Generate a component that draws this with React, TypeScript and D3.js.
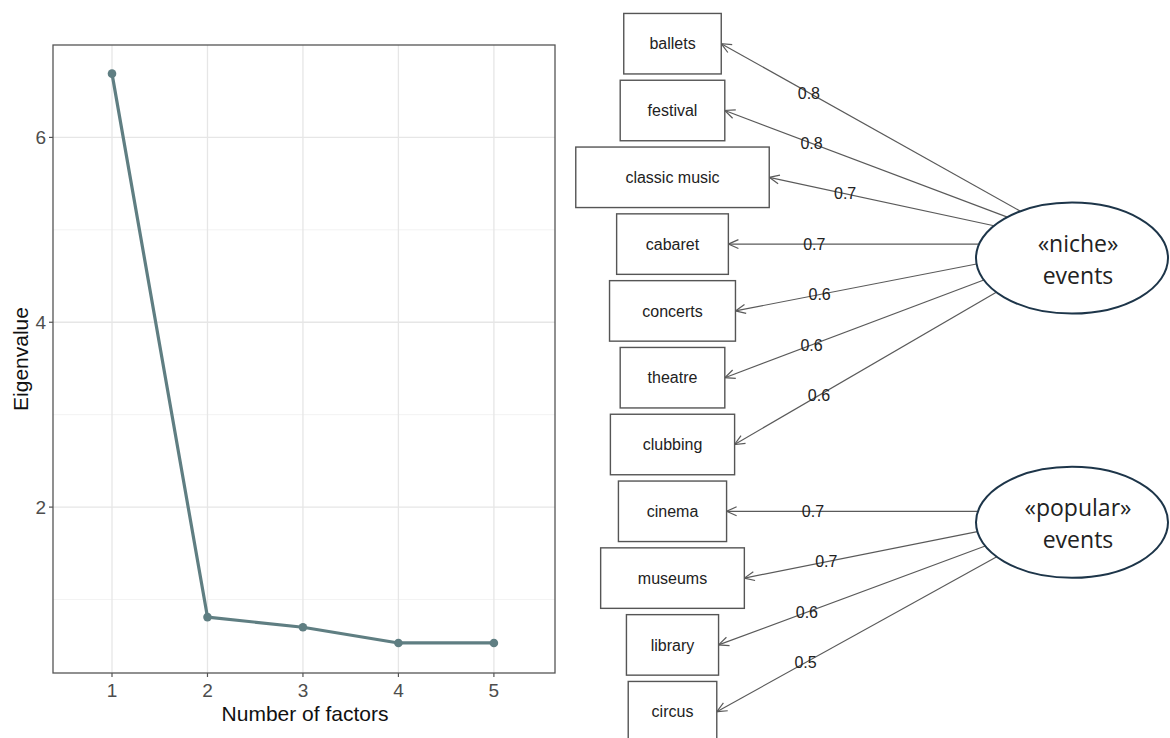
import React from 'react';
import * as d3 from 'd3';

// ---------- data ----------
const factors = [1, 2, 3, 4, 5];
const eigenvalues = [6.69, 0.81, 0.7, 0.53, 0.53];
const yTicks = [2, 4, 6];
const yMinorTicks = [1, 3, 5];
const xTitle = 'Number of factors';
const yTitle = 'Eigenvalue';

const indicators = ['ballets', 'festival', 'classic music', 'cabaret', 'concerts', 'theatre', 'clubbing', 'cinema', 'museums', 'library', 'circus'];
const loadings = [0.8, 0.8, 0.7, 0.7, 0.6, 0.6, 0.6, 0.7, 0.7, 0.6, 0.5];
const indicatorFactor = [0, 0, 0, 0, 0, 0, 0, 1, 1, 1, 1];
const factorLines = [['«niche»', 'events'], ['«popular»', 'events']];

// ---------- layout ----------
const W = 1170, H = 738;
const panel = { left: 53, right: 555, top: 45, bottom: 673 };
const boxCx = 672.5;
const boxH = 60.5;
const latentLayout = [
  { focusRow: 3, dy: 14 },
  { focusRow: 7, dy: 11 },
];
const ellCx = 1072, ellRx = 96, ellRy = 55.5;
const focusDx = 7;

const FONT = "'Liberation Sans', Arial, sans-serif";
const LATENT_FONT = "'Open Sans', 'Noto Sans', sans-serif";

function measure(text: string, size: number): number {
  const c = document.createElement('canvas').getContext('2d');
  if (!c) return text.length * size * 0.5;
  c.font = `${size}px ${FONT}`;
  return c.measureText(text).width;
}

export default function App() {
  const x = d3.scaleLinear().domain([0.382, 5.64]).range([panel.left, panel.right]);
  const y = d3.scaleLinear().domain([0.205, 7.0]).range([panel.bottom, panel.top]);
  const line = d3.line<number>().x((_, i) => x(factors[i])).y((d) => y(d));

  const row = d3.scaleLinear().domain([0, indicators.length - 1]).range([43.7, 43.7 + 66.8 * (indicators.length - 1)]);

  const latents = latentLayout.map((l) => {
    const fy = row(l.focusRow);
    return { fx: ellCx + focusDx, fy, cx: ellCx, cy: fy + l.dy };
  });

  const edges = indicators.map((name, i) => {
    const lat = latents[indicatorFactor[i]];
    const tw = measure(name, 16);
    const bw = 2 * tw + 5;
    const tx = boxCx + bw / 2;
    const ty = row(i);
    const dx = tx - lat.fx, dy = ty - lat.fy;
    const ox = (lat.fx - lat.cx) / ellRx, oy = (lat.fy - lat.cy) / ellRy;
    const ux = dx / ellRx, uy = dy / ellRy;
    const a = ux * ux + uy * uy, b = 2 * (ox * ux + oy * uy), c = ox * ox + oy * oy - 1;
    const s = (-b + Math.sqrt(b * b - 4 * a * c)) / (2 * a);
    const sx = lat.fx + s * dx, sy = lat.fy + s * dy;
    const ang = Math.atan2(sy - ty, sx - tx);
    const L = 11, spread = (24 * Math.PI) / 180;
    const head = `M${tx + L * Math.cos(ang + spread)},${ty + L * Math.sin(ang + spread)}L${tx},${ty}L${tx + L * Math.cos(ang - spread)},${ty + L * Math.sin(ang - spread)}`;
    const lx = tx + 0.245 * (lat.fx - tx);
    const ly = ty + 0.245 * (lat.fy - ty);
    return { name, i, bw, tx, ty, sx, sy, head, lx, ly, load: loadings[i] };
  });

  const midY = (panel.top + panel.bottom) / 2;
  const midX = (panel.left + panel.right) / 2;

  return (
    <div style={{ position: 'absolute', left: 0, top: 0 }}>
      <svg width={W} height={H} style={{ display: 'block', background: '#fff' }}>
        {/* ---------- scree plot ---------- */}
        <rect x={panel.left} y={panel.top} width={panel.right - panel.left} height={panel.bottom - panel.top} fill="#fff" />
        {yMinorTicks.map((t) => (
          <line key={'ym' + t} x1={panel.left} x2={panel.right} y1={y(t)} y2={y(t)} stroke="#EFEFEF" strokeWidth={0.8} />
        ))}
        {yTicks.map((t) => (
          <line key={'yg' + t} x1={panel.left} x2={panel.right} y1={y(t)} y2={y(t)} stroke="#E6E6E6" strokeWidth={1.3} />
        ))}
        {factors.map((f) => (
          <line key={'xg' + f} x1={x(f)} x2={x(f)} y1={panel.top} y2={panel.bottom} stroke="#E6E6E6" strokeWidth={1.3} />
        ))}
        <path d={line(eigenvalues) || ''} fill="none" stroke="#5f7e82" strokeWidth={3.2} strokeLinejoin="round" />
        {eigenvalues.map((v, i) => (
          <circle key={'pt' + i} cx={x(factors[i])} cy={y(v)} r={4.3} fill="#5f7e82" />
        ))}
        <rect x={panel.left} y={panel.top} width={panel.right - panel.left} height={panel.bottom - panel.top} fill="none" stroke="#555" strokeWidth={1.3} />
        {factors.map((f) => (
          <g key={'xt' + f}>
            <line x1={x(f)} x2={x(f)} y1={panel.bottom} y2={panel.bottom + 4} stroke="#555" strokeWidth={1.2} />
            <text x={x(f)} y={697} textAnchor="middle" fontFamily={FONT} fontSize={19} fill="#4D4D4D">{f}</text>
          </g>
        ))}
        {yTicks.map((t) => (
          <g key={'yt' + t}>
            <line x1={panel.left - 4} x2={panel.left} y1={y(t)} y2={y(t)} stroke="#555" strokeWidth={1.2} />
            <text x={46} y={y(t)} dy="0.36em" textAnchor="end" fontFamily={FONT} fontSize={19} fill="#4D4D4D">{t}</text>
          </g>
        ))}
        <text x={midX + 1} y={721} textAnchor="middle" fontFamily={FONT} fontSize={21} fill="#111">{xTitle}</text>
        <text transform={`translate(28,${midY}) rotate(-90)`} textAnchor="middle" fontFamily={FONT} fontSize={21} fill="#111">{yTitle}</text>

        {/* ---------- path diagram ---------- */}
        {edges.map((e) => (
          <g key={'e' + e.i}>
            <line x1={e.sx} y1={e.sy} x2={e.tx} y2={e.ty} stroke="#5a5a5a" strokeWidth={1.2} />
            <path d={e.head} fill="none" stroke="#5a5a5a" strokeWidth={1.2} />
            <text x={e.lx} y={e.ly} dy="0.36em" textAnchor="middle" fontFamily={FONT} fontSize={16} fill="#222">{e.load.toFixed(1)}</text>
          </g>
        ))}
        {edges.map((e) => (
          <g key={'b' + e.i}>
            <rect x={boxCx - e.bw / 2} y={e.ty - boxH / 2} width={e.bw} height={boxH} fill="#fff" stroke="#555" strokeWidth={1.4} />
            <text x={boxCx} y={e.ty} dy="0.36em" textAnchor="middle" fontFamily={FONT} fontSize={16} fill="#222">{e.name}</text>
          </g>
        ))}
        {latents.map((l, k) => (
          <g key={'lat' + k}>
            <ellipse cx={l.cx} cy={l.cy} rx={ellRx} ry={ellRy} fill="#fff" stroke="#1d3549" strokeWidth={2} />
            <text x={l.cx + 6} y={l.cy - 6} textAnchor="middle" fontFamily={LATENT_FONT} fontSize={23} fill="#222">{factorLines[k][0]}</text>
            <text x={l.cx + 6} y={l.cy + 25.5} textAnchor="middle" fontFamily={LATENT_FONT} fontSize={23} fill="#222">{factorLines[k][1]}</text>
          </g>
        ))}
      </svg>
    </div>
  );
}
